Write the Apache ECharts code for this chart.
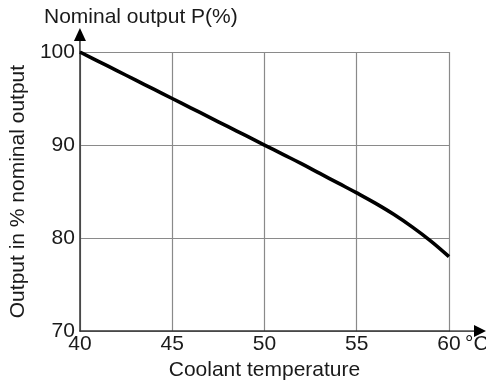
<!DOCTYPE html>
<html><head><meta charset="utf-8">
<script src="https://cdn.jsdelivr.net/npm/echarts@6/dist/echarts.min.js"></script>
<style>html,body{margin:0;padding:0;background:#fff}#c{width:486px;height:386px}</style>
</head><body><div id="c"></div>
<script>
const temperatures = [40, 41, 42, 43, 44, 45, 46, 47, 48, 49, 50, 51, 52, 53, 54, 55, 56, 57, 58, 59, 60];
const outputPct   = [100, 99, 98, 97, 96, 95, 94, 93, 92, 91, 90, 89, 88, 86.95, 85.9, 84.85, 83.75, 82.55, 81.2, 79.7, 78.0];
const xTicks = [40, 45, 50, 55, 60];
const yTicks = [70, 80, 90, 100];
const titleText = 'Nominal output P(%)';
const xName = 'Coolant temperature';
const yName = 'Output in % nominal output';
const unitText = '°C';

const FONT = 'Liberation Sans, Arial, Helvetica, sans-serif';
const FS = 21;
const chart = echarts.init(document.getElementById('c'), null, {renderer: 'canvas'});
const option = {
  animation: false,
  backgroundColor: '#fff',
  title: {text: titleText, left: 39, top: 2,
    textStyle: {fontFamily: FONT, fontSize: FS, fontWeight: 'normal', color: '#1a1a1a'}},
  grid: {left: 77, right: 37, top: 52, bottom: 53},
  xAxis: {type: 'value', min: xTicks[0], max: xTicks[xTicks.length-1], interval: 5,
    name: xName, nameLocation: 'middle', nameGap: 28,
    nameTextStyle: {fontFamily: FONT, fontSize: FS, color: '#1a1a1a'},
    axisLine: {show: true, lineStyle: {color: '#333', width: 1.5}},
    axisTick: {show: false},
    axisLabel: {margin: 3, fontFamily: FONT, fontSize: FS, color: '#1a1a1a'},
    splitLine: {show: true, lineStyle: {color: '#8a8a8a', width: 1.2}}},
  yAxis: {type: 'value', min: yTicks[0], max: yTicks[yTicks.length-1], interval: 10,
    name: yName, nameLocation: 'middle', nameGap: 50,
    nameTextStyle: {fontFamily: FONT, fontSize: FS, color: '#1a1a1a'},
    axisLine: {show: true, lineStyle: {color: '#333', width: 1.5}},
    axisTick: {show: false},
    axisLabel: {margin: 5, fontFamily: FONT, fontSize: FS, color: '#1a1a1a'},
    splitLine: {show: true, lineStyle: {color: '#8a8a8a', width: 1.2}}},
  series: [{type: 'line', data: temperatures.map((t, i) => [t, outputPct[i]]),
    smooth: 0.4, showSymbol: false, symbol: 'none',
    lineStyle: {color: '#000', width: 3.6}}]
};
chart.setOption(option);

const t = chart.convertToPixel({gridIndex: 0}, [xTicks[0], yTicks[yTicks.length-1]]);
const r = chart.convertToPixel({gridIndex: 0}, [xTicks[xTicks.length-1], yTicks[0]]);
chart.setOption({graphic: [
  {type: 'line', shape: {x1: r[0], y1: r[1], x2: r[0] + 26, y2: r[1]}, style: {stroke: '#333', lineWidth: 1.5}},
  {type: 'polygon', shape: {points: [[r[0]+25, r[1]-6], [r[0]+37, r[1]], [r[0]+25, r[1]+6]]}, style: {fill: '#000'}},
  {type: 'line', shape: {x1: t[0], y1: t[1], x2: t[0], y2: t[1] - 12}, style: {stroke: '#333', lineWidth: 1.5}},
  {type: 'polygon', shape: {points: [[t[0]-6, t[1]-11], [t[0], t[1]-24], [t[0]+6, t[1]-11]]}, style: {fill: '#000'}},
  {type: 'text', x: r[0] + 16, y: r[1] + 3, style: {text: unitText, font: FS + 'px ' + FONT, fill: '#1a1a1a'}}
]});
</script></body></html>
